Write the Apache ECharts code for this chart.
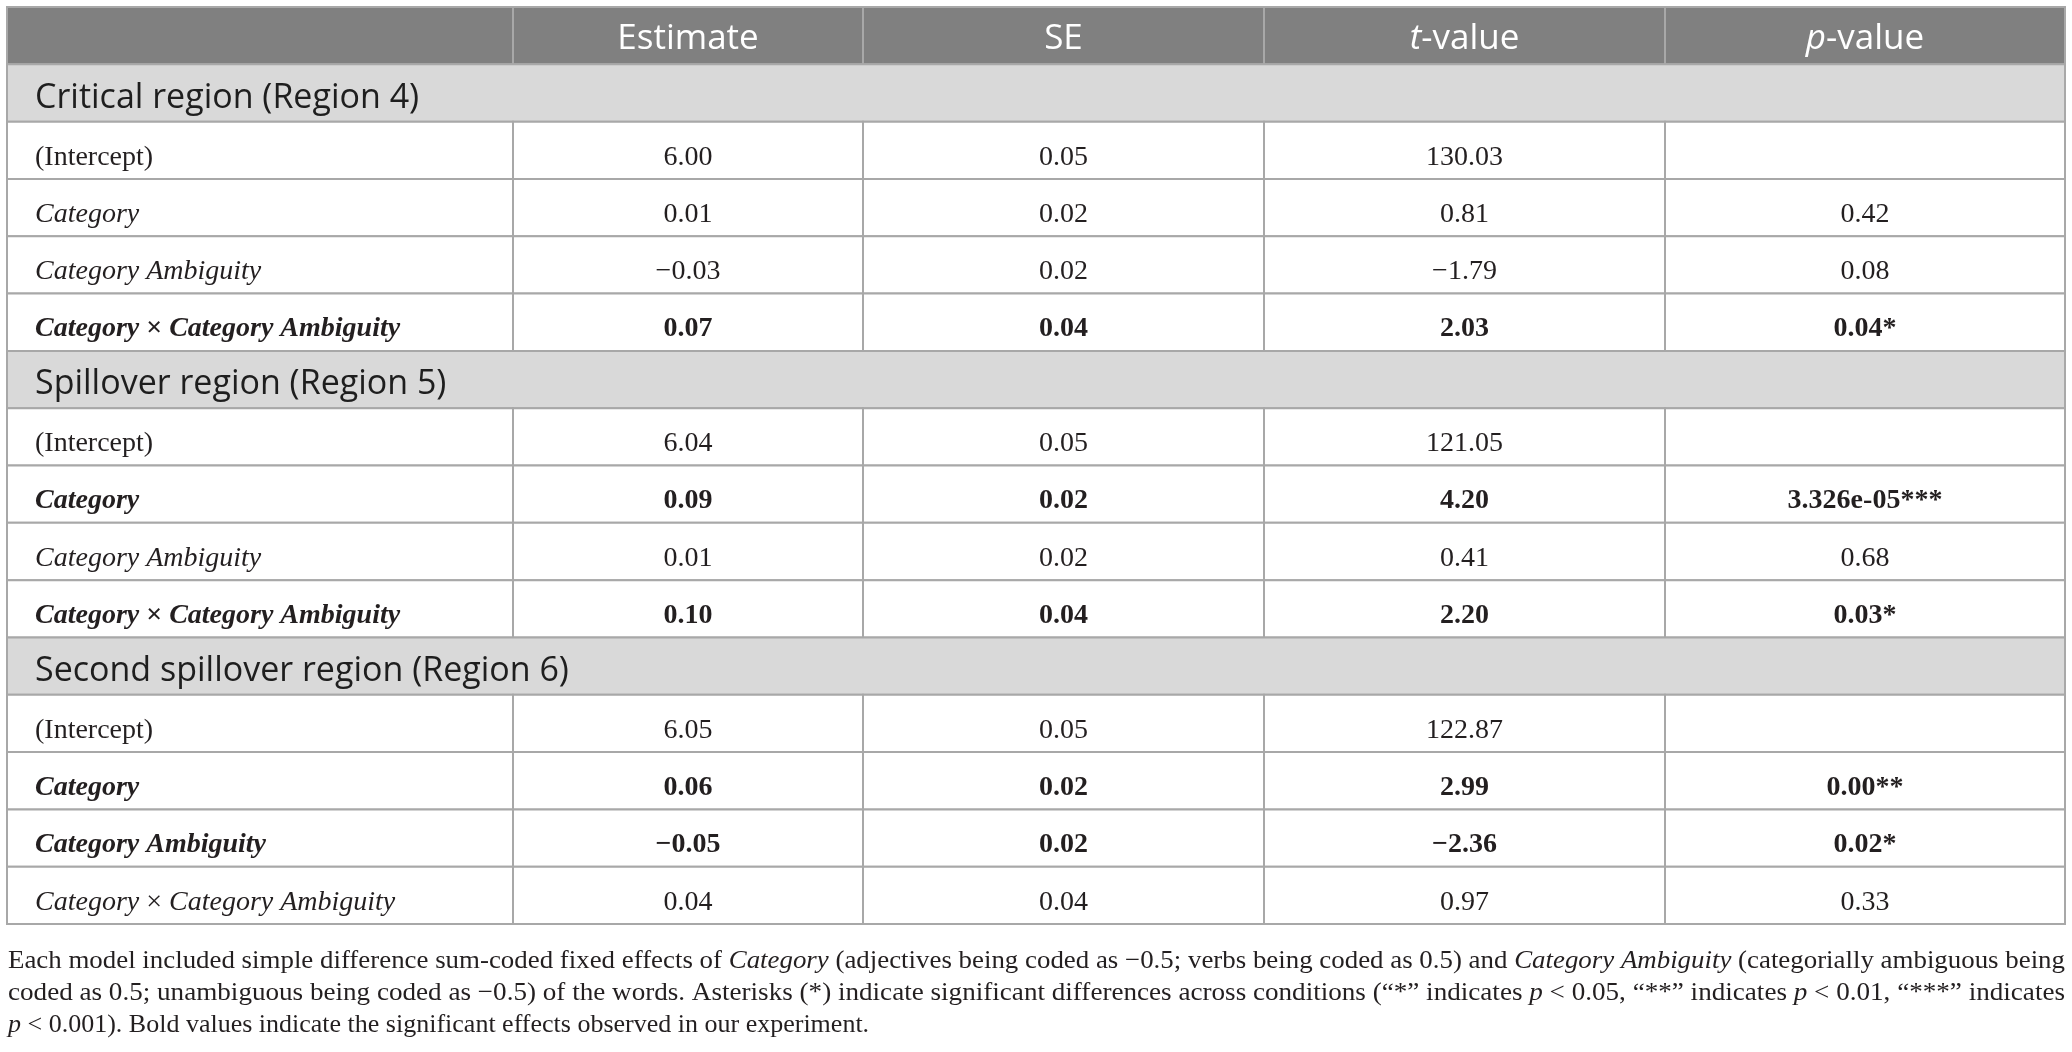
<!DOCTYPE html>
<html>
<head>
<meta charset="utf-8">
<script src="https://cdn.jsdelivr.net/npm/echarts@6/dist/echarts.min.js"></script>
<style>
html,body{margin:0;padding:0;background:#fff;}
#chart{width:2072px;height:1052px;}
</style>
</head>
<body>
<div id="chart"></div>
<script>
// ---------- DATA ----------
const columnHeaders = ['', 'Estimate', 'SE', '{hi|t}-value', '{hi|p}-value'];
const sections = ['Critical region (Region 4)', 'Spillover region (Region 5)', 'Second spillover region (Region 6)'];
const terms = ['(Intercept)', 'Category', 'Category Ambiguity', 'Category × Category Ambiguity'];
const estimates = [[6.00, 0.01, -0.03, 0.07], [6.04, 0.09, 0.01, 0.10], [6.05, 0.06, -0.05, 0.04]];
const standardErrors = [[0.05, 0.02, 0.02, 0.04], [0.05, 0.02, 0.02, 0.04], [0.05, 0.02, 0.02, 0.04]];
const tValues = [[130.03, 0.81, -1.79, 2.03], [121.05, 4.20, 0.41, 2.20], [122.87, 2.99, -2.36, 0.97]];
const pValues = [['', '0.42', '0.08', '0.04*'], ['', '3.326e-05***', '0.68', '0.03*'], ['', '0.00**', '0.02*', '0.33']];
const significant = [[false, false, false, true], [false, true, false, true], [false, true, true, false]];
const footnoteLines = [
  [['n', 'Each model included simple difference sum-coded fixed effects of '], ['i', 'Category'], ['n', ' (adjectives being coded as −0.5; verbs being coded as 0.5) and '], ['i', 'Category Ambiguity'], ['n', ' (categorially ambiguous being']],
  [['n', 'coded as 0.5; unambiguous being coded as −0.5) of the words. Asterisks (*) indicate significant differences across conditions (“*” indicates '], ['i', 'p'], ['n', ' < 0.05, “**” indicates '], ['i', 'p'], ['n', ' < 0.01, “***” indicates']],
  [['i', 'p'], ['n', ' < 0.001). Bold values indicate the significant effects observed in our experiment.']]
];

// ---------- LAYOUT / STYLE ----------
const tableLeft = 7, tableTop = 7, tableRight = 2065, tableBottom = 924;
const colEdges = [0, 506, 856, 1257, 1658, 2058]; // axis units from table left
const serif = '"Liberation Serif", "Times New Roman", serif';
const sans = '"Open Sans", "Noto Sans", sans-serif';
const bodySize = 28, headSize = 35, sectionSize = 34, noteSize = 26;
const lineColor = '#a8a8a8';
const textColor = '#231f20';

function fmt(v) { return (v < 0 ? '−' : '') + Math.abs(v).toFixed(2); }

const rowIds = [];
const rows = [];
rows.push({ kind: 'header' }); rowIds.push('h');
sections.forEach((s, si) => {
  rows.push({ kind: 'section', label: s }); rowIds.push('s' + si);
  terms.forEach((t, ti) => {
    rows.push({ kind: 'data', si, ti }); rowIds.push('r' + si + '_' + ti);
  });
});

function termRich(term, bold) {
  if (term === '(Intercept)') return '{' + (bold ? 'b' : 'n') + '|' + term + '}';
  const it = bold ? 'bi' : 'i', up = bold ? 'b' : 'n';
  return term.split(' × ').map(p => '{' + it + '|' + p + '}').join('{' + up + '| × }');
}

const cells = [];
rows.forEach((row, r) => {
  if (row.kind === 'section') {
    cells.push({ row: r, x0: colEdges[0], x1: colEdges[5], kind: 'section', text: row.label, align: 'left' });
  } else if (row.kind === 'header') {
    for (let c = 0; c < 5; c++) cells.push({ row: r, x0: colEdges[c], x1: colEdges[c + 1], kind: 'header', text: columnHeaders[c], align: 'center' });
  } else {
    const { si, ti } = row;
    const bold = significant[si][ti];
    const w = bold ? 'b' : 'n';
    const vals = [
      termRich(terms[ti], bold),
      '{' + w + '|' + fmt(estimates[si][ti]) + '}',
      '{' + w + '|' + fmt(standardErrors[si][ti]) + '}',
      '{' + w + '|' + fmt(tValues[si][ti]) + '}',
      pValues[si][ti] ? '{' + w + '|' + pValues[si][ti] + '}' : ''
    ];
    for (let c = 0; c < 5; c++) cells.push({ row: r, x0: colEdges[c], x1: colEdges[c + 1], kind: 'data', text: vals[c], align: c === 0 ? 'left' : 'center' });
  }
});

const bodyRich = {
  n: { fontFamily: serif, fontSize: bodySize, fill: textColor, color: textColor },
  i: { fontFamily: serif, fontSize: bodySize, fontStyle: 'italic', fill: textColor, color: textColor },
  b: { fontFamily: serif, fontSize: bodySize, fontWeight: 'bold', fill: textColor, color: textColor },
  bi: { fontFamily: serif, fontSize: bodySize, fontWeight: 'bold', fontStyle: 'italic', fill: textColor, color: textColor }
};
const headRich = {
  hi: { fontFamily: sans, fontSize: headSize, fontStyle: 'italic', fill: '#fff', color: '#fff' }
};

function renderItem(params, api) {
  const cell = cells[params.dataIndex];
  const p0 = api.coord([api.value(0), api.value(1)]);
  const p1 = api.coord([api.value(2), api.value(1)]);
  const h = api.size([0, 1])[1];
  const x = p0[0], w = p1[0] - p0[0], y = p0[1] - h / 2;
  let fill = '#fff';
  if (cell.kind === 'header') fill = '#808080';
  else if (cell.kind === 'section') fill = '#d9d9d9';
  const children = [{
    type: 'rect',
    shape: { x, y, width: w, height: h },
    style: { fill, stroke: lineColor, lineWidth: 2 }
  }];
  if (cell.text) {
    let style;
    if (cell.kind === 'header') {
      style = { text: cell.text, rich: headRich, fontFamily: sans, fontSize: headSize, fill: '#fff',
        x: x + w / 2, y: y + h / 2 + 3, align: 'center', verticalAlign: 'middle' };
    } else if (cell.kind === 'section') {
      style = { text: cell.text, fontFamily: sans, fontSize: sectionSize, fill: '#1e1e1e',
        x: x + 28, y: y + h / 2 + 5, align: 'left', verticalAlign: 'middle' };
    } else {
      style = { text: cell.text, rich: bodyRich, fontFamily: serif, fontSize: bodySize, fill: textColor,
        x: cell.align === 'left' ? x + 28 : x + w / 2, y: y + h / 2 + 7,
        align: cell.align, verticalAlign: 'middle' };
    }
    children.push({ type: 'text', style, z2: 10 });
  }
  return { type: 'group', children };
}

const noteRich = {
  n: { fontFamily: serif, fontSize: noteSize, fill: textColor, color: textColor },
  i: { fontFamily: serif, fontSize: noteSize, fontStyle: 'italic', fill: textColor, color: textColor }
};
const mctx = document.createElement('canvas').getContext('2d');
function measureLine(segs) {
  let w = 0;
  segs.forEach(([s, t]) => {
    mctx.font = (s === 'i' ? 'italic ' : '') + noteSize + 'px ' + serif;
    w += mctx.measureText(t).width;
  });
  return w;
}
const noteLeft = 8, noteTarget = 2065 - 8;
const noteY = [961, 993, 1025];
const graphics = footnoteLines.map((segs, k) => {
  const txt = segs.map(([s, t]) => '{' + s + '|' + t + '}').join('');
  const natural = measureLine(segs);
  const sx = k < 2 ? noteTarget / natural : 1;
  return {
    type: 'text', x: noteLeft, y: noteY[k], scaleX: sx, originX: 0,
    style: { text: txt, rich: noteRich, fontFamily: serif, fontSize: noteSize, fill: textColor, verticalAlign: 'middle', align: 'left' },
    silent: true
  };
});

const chart = echarts.init(document.getElementById('chart'), null, { renderer: 'canvas' });
chart.setOption({
  backgroundColor: '#fff',
  animation: false,
  grid: { left: tableLeft, top: tableTop, width: tableRight - tableLeft, height: tableBottom - tableTop, containLabel: false },
  xAxis: { type: 'value', min: 0, max: colEdges[5], show: false },
  yAxis: { type: 'category', data: rowIds, inverse: true, show: false },
  series: [{
    type: 'custom',
    renderItem,
    encode: { x: [0, 2], y: 1 },
    data: cells.map(c => [c.x0, c.row, c.x1]),
    silent: true
  }],
  graphic: graphics
});
</script>
</body>
</html>
